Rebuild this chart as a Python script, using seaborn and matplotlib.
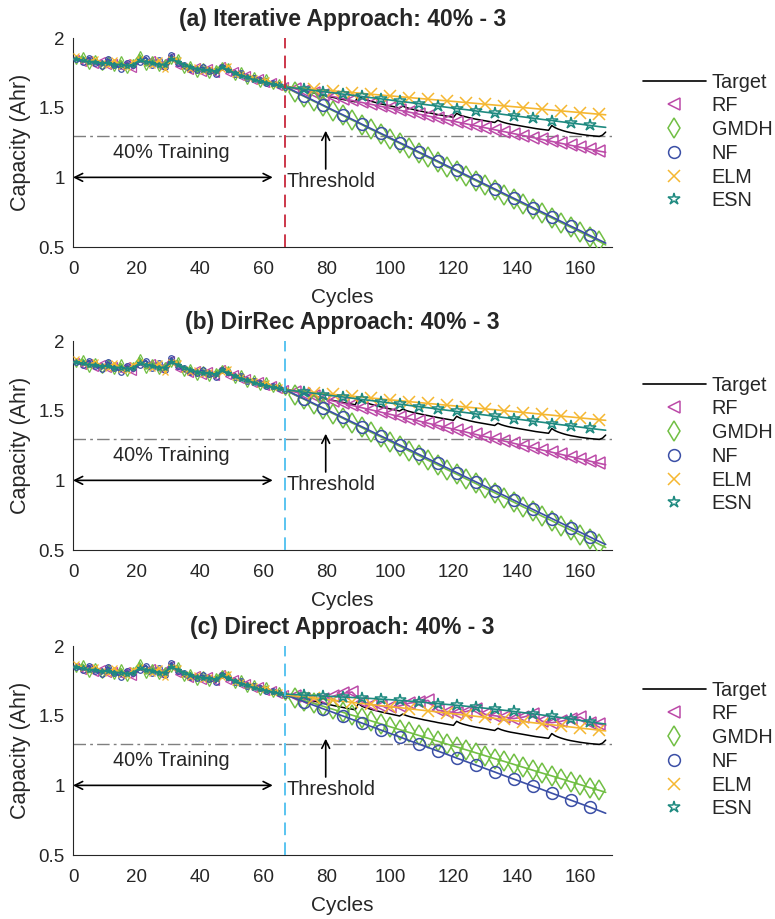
import numpy as np
import matplotlib
matplotlib.use("Agg")
import matplotlib.pyplot as plt
import seaborn as sns
from matplotlib.lines import Line2D

# ---- data -------------------------------------------------------------
cycles = list(range(1, 169))
target = [
    1.856, 1.846, 1.835, 1.835, 1.835, 1.835, 1.835, 1.825, 1.825, 1.824,
    1.825, 1.814, 1.814, 1.826, 1.820, 1.804, 1.804, 1.802, 1.804, 1.805,
    1.855, 1.844, 1.834, 1.834, 1.823, 1.823, 1.818, 1.813, 1.803, 1.803,
    1.855, 1.845, 1.833, 1.823, 1.812, 1.803, 1.792, 1.788, 1.783, 1.778,
    1.773, 1.768, 1.767, 1.763, 1.757, 1.752, 1.793, 1.782, 1.772, 1.762,
    1.752, 1.742, 1.737, 1.727, 1.722, 1.712, 1.707, 1.702, 1.697, 1.691,
    1.686, 1.681, 1.675, 1.670, 1.665, 1.660, 1.655, 1.650, 1.645, 1.640,
    1.634, 1.628, 1.622, 1.617, 1.611, 1.605, 1.600, 1.594, 1.589, 1.584,
    1.579, 1.574, 1.569, 1.564, 1.560, 1.555, 1.551, 1.547, 1.542, 1.588,
    1.570, 1.560, 1.553, 1.546, 1.540, 1.534, 1.528, 1.523, 1.518, 1.513,
    1.508, 1.503, 1.498, 1.512, 1.502, 1.495, 1.489, 1.484, 1.479, 1.474,
    1.469, 1.465, 1.460, 1.456, 1.451, 1.447, 1.443, 1.439, 1.435, 1.431,
    1.460, 1.448, 1.440, 1.434, 1.428, 1.423, 1.418, 1.414, 1.410, 1.406,
    1.402, 1.398, 1.394, 1.410, 1.400, 1.393, 1.387, 1.382, 1.378, 1.374,
    1.370, 1.366, 1.362, 1.358, 1.354, 1.350, 1.347, 1.344, 1.341, 1.338,
    1.372, 1.357, 1.347, 1.339, 1.332, 1.326, 1.321, 1.317, 1.313, 1.309,
    1.306, 1.303, 1.300, 1.298, 1.296, 1.294, 1.303, 1.325]

# training fits (every second cycle, 1..67), same in all three panels
train_cycles = list(range(1, 68, 2))
train_fit = {
    "RF": [1.86, 1.82, 1.85, 1.81, 1.84, 1.80, 1.83, 1.79, 1.83, 1.78,
           1.84, 1.82, 1.85, 1.80, 1.83, 1.87, 1.80, 1.79, 1.76, 1.80,
           1.75, 1.79, 1.74, 1.81, 1.75, 1.77, 1.72, 1.74, 1.69, 1.72,
           1.67, 1.69, 1.65, 1.66],
    "GMDH": [1.84, 1.87, 1.81, 1.85, 1.80, 1.84, 1.79, 1.84, 1.78, 1.82,
             1.88, 1.80, 1.84, 1.79, 1.82, 1.84, 1.86, 1.78, 1.81, 1.75,
             1.79, 1.74, 1.78, 1.80, 1.79, 1.73, 1.76, 1.70, 1.73, 1.68,
             1.71, 1.66, 1.68, 1.64],
    "NF": [1.85, 1.83, 1.86, 1.82, 1.80, 1.85, 1.81, 1.78, 1.82, 1.81,
           1.83, 1.86, 1.81, 1.84, 1.79, 1.88, 1.82, 1.81, 1.78, 1.77,
           1.79, 1.76, 1.74, 1.79, 1.78, 1.74, 1.75, 1.71, 1.71, 1.70,
           1.68, 1.68, 1.66, 1.65],
    "ELM": [1.87, 1.84, 1.83, 1.85, 1.82, 1.81, 1.84, 1.80, 1.79, 1.83,
            1.85, 1.83, 1.81, 1.84, 1.78, 1.85, 1.84, 1.80, 1.78, 1.79,
            1.76, 1.78, 1.76, 1.78, 1.80, 1.74, 1.74, 1.72, 1.71, 1.69,
            1.70, 1.67, 1.67, 1.65],
    "ESN": [1.85, 1.84, 1.83, 1.83, 1.82, 1.82, 1.81, 1.81, 1.80, 1.81,
            1.84, 1.83, 1.82, 1.81, 1.81, 1.85, 1.83, 1.81, 1.79, 1.78,
            1.77, 1.77, 1.76, 1.79, 1.77, 1.75, 1.73, 1.72, 1.70, 1.69,
            1.68, 1.67, 1.66, 1.65],
}

# predictions from cycle 67 on
pred_cycles = list(range(67, 167, 3)) + [168]

pred_a = {
    "RF": [1.650, 1.636, 1.622, 1.608, 1.594, 1.580, 1.566, 1.552, 1.538, 1.524,
           1.510, 1.496, 1.482, 1.468, 1.454, 1.440, 1.426, 1.412, 1.398, 1.384,
           1.370, 1.356, 1.342, 1.328, 1.314, 1.300, 1.286, 1.272, 1.258, 1.244,
           1.230, 1.216, 1.202, 1.188, 1.180],
    "GMDH": [1.650, 1.612, 1.580, 1.545, 1.513, 1.478, 1.446, 1.411, 1.379, 1.344,
             1.312, 1.277, 1.245, 1.210, 1.178, 1.143, 1.111, 1.076, 1.044, 1.009,
             0.977, 0.942, 0.910, 0.875, 0.843, 0.808, 0.776, 0.741, 0.709, 0.674,
             0.642, 0.607, 0.575, 0.540, 0.515],
    "NF": [1.650, 1.617, 1.583, 1.550, 1.517, 1.483, 1.450, 1.417, 1.383, 1.350,
           1.317, 1.283, 1.250, 1.217, 1.183, 1.150, 1.117, 1.083, 1.050, 1.017,
           0.983, 0.950, 0.917, 0.883, 0.850, 0.817, 0.783, 0.750, 0.717, 0.683,
           0.650, 0.617, 0.583, 0.550, 0.528],
    "ELM": [1.650, 1.644, 1.638, 1.632, 1.627, 1.621, 1.615, 1.609, 1.603, 1.597,
            1.591, 1.585, 1.579, 1.573, 1.567, 1.561, 1.555, 1.549, 1.543, 1.537,
            1.531, 1.525, 1.519, 1.513, 1.507, 1.501, 1.495, 1.489, 1.483, 1.477,
            1.471, 1.465, 1.459, 1.453, 1.449],
    "ESN": [1.650, 1.641, 1.633, 1.624, 1.615, 1.607, 1.598, 1.590, 1.581, 1.572,
            1.564, 1.555, 1.546, 1.538, 1.529, 1.520, 1.512, 1.503, 1.494, 1.486,
            1.477, 1.468, 1.460, 1.451, 1.442, 1.434, 1.425, 1.416, 1.408, 1.399,
            1.390, 1.382, 1.373, 1.364, 1.359],
}
pred_b = {
    "RF": [1.650, 1.634, 1.618, 1.602, 1.586, 1.570, 1.554, 1.538, 1.522, 1.506,
           1.490, 1.474, 1.458, 1.442, 1.426, 1.410, 1.394, 1.378, 1.362, 1.346,
           1.330, 1.314, 1.298, 1.282, 1.266, 1.250, 1.234, 1.218, 1.202, 1.186,
           1.170, 1.154, 1.138, 1.122, 1.112],
    "GMDH": [1.650, 1.613, 1.581, 1.546, 1.514, 1.479, 1.447, 1.412, 1.380, 1.345,
             1.313, 1.278, 1.246, 1.211, 1.179, 1.144, 1.112, 1.077, 1.045, 1.010,
             0.978, 0.943, 0.911, 0.876, 0.844, 0.809, 0.777, 0.742, 0.710, 0.675,
             0.643, 0.608, 0.576, 0.541, 0.518],
    "NF": [1.650, 1.617, 1.584, 1.551, 1.518, 1.485, 1.452, 1.419, 1.386, 1.353,
           1.320, 1.287, 1.254, 1.221, 1.188, 1.155, 1.122, 1.089, 1.056, 1.023,
           0.990, 0.957, 0.924, 0.891, 0.858, 0.825, 0.792, 0.759, 0.726, 0.693,
           0.660, 0.627, 0.594, 0.561, 0.540],
    "ELM": [1.650, 1.643, 1.637, 1.630, 1.624, 1.617, 1.611, 1.604, 1.598, 1.591,
            1.585, 1.578, 1.572, 1.565, 1.559, 1.552, 1.546, 1.539, 1.533, 1.526,
            1.520, 1.513, 1.507, 1.500, 1.494, 1.487, 1.481, 1.474, 1.468, 1.461,
            1.455, 1.448, 1.442, 1.435, 1.431],
    "ESN": [1.650, 1.642, 1.633, 1.625, 1.616, 1.607, 1.599, 1.590, 1.581, 1.573,
            1.564, 1.555, 1.547, 1.538, 1.529, 1.521, 1.512, 1.503, 1.495, 1.486,
            1.477, 1.469, 1.460, 1.451, 1.443, 1.434, 1.425, 1.417, 1.408, 1.399,
            1.391, 1.382, 1.373, 1.365, 1.360],
}
pred_c = {
    "RF": [1.65, 1.64, 1.62, 1.61, 1.62, 1.64, 1.66, 1.67, 1.60, 1.58,
           1.57, 1.56, 1.57, 1.59, 1.60, 1.61, 1.54, 1.53, 1.52, 1.53,
           1.55, 1.51, 1.50, 1.49, 1.48, 1.49, 1.51, 1.46, 1.45, 1.46,
           1.48, 1.49, 1.45, 1.44, 1.43],
    "GMDH": [1.650, 1.629, 1.608, 1.588, 1.567, 1.546, 1.525, 1.504, 1.484, 1.463,
             1.442, 1.421, 1.400, 1.380, 1.359, 1.338, 1.317, 1.296, 1.276, 1.255,
             1.234, 1.213, 1.192, 1.172, 1.151, 1.130, 1.109, 1.088, 1.068, 1.047,
             1.026, 1.005, 0.984, 0.964, 0.950],
    "NF": [1.650, 1.625, 1.600, 1.574, 1.549, 1.524, 1.499, 1.474, 1.448, 1.423,
           1.398, 1.373, 1.348, 1.322, 1.297, 1.272, 1.247, 1.222, 1.196, 1.171,
           1.146, 1.121, 1.096, 1.070, 1.045, 1.020, 0.995, 0.970, 0.944, 0.919,
           0.894, 0.869, 0.844, 0.818, 0.800],
    "ELM": [1.650, 1.642, 1.635, 1.627, 1.619, 1.612, 1.604, 1.596, 1.588, 1.581,
            1.573, 1.565, 1.558, 1.550, 1.542, 1.535, 1.527, 1.519, 1.511, 1.504,
            1.496, 1.488, 1.481, 1.473, 1.465, 1.458, 1.450, 1.442, 1.435, 1.427,
            1.419, 1.411, 1.404, 1.396, 1.391],
    "ESN": [1.655, 1.652, 1.648, 1.645, 1.641, 1.638, 1.634, 1.631, 1.627, 1.624,
            1.619, 1.615, 1.610, 1.605, 1.599, 1.593, 1.587, 1.581, 1.575, 1.568,
            1.561, 1.554, 1.547, 1.539, 1.531, 1.522, 1.514, 1.505, 1.496, 1.486,
            1.476, 1.466, 1.456, 1.446, 1.440],
}

titles = ["(a) Iterative Approach: 40% - 3",
          "(b) DirRec Approach: 40% - 3",
          "(c) Direct Approach: 40% - 3"]
panels = [pred_a, pred_b, pred_c]
split_colors = ["#C8283C", "#4DBFEF", "#4DBFEF"]
models = ["RF", "GMDH", "NF", "ELM", "ESN"]
threshold = 1.3
train_end = 67

# ---- style ------------------------------------------------------------
sns.set_style("white")
plt.rcParams["font.family"] = ["Liberation Sans", "DejaVu Sans"]

colors = {"RF": "#BC4AA8", "GMDH": "#71BF44", "NF": "#3B4FA6",
          "ELM": "#F5B731", "ESN": "#1E8A80"}
markers = {"RF": "<", "GMDH": "d", "NF": "o", "ELM": "x", "ESN": "*"}
msize = {"RF": 9, "GMDH": 10, "NF": 8.5, "ELM": 9, "ESN": 9}
mevery = {"RF": list(range(1, 34)), "GMDH": list(range(1, 34)),
          "NF": list(range(2, 34, 2)), "ELM": list(range(3, 34, 2)),
          "ESN": list(range(2, 34, 2))}

fig = plt.figure(figsize=(7.75, 9.19), dpi=100)
bottoms = [0.7312, 0.4015, 0.0696]

for k in range(3):
    ax = fig.add_axes([0.0942, bottoms[k], 0.6955, 0.2274])
    preds = panels[k]

    sns.lineplot(x=cycles, y=target, color="black", lw=1.1, ax=ax,
                 legend=False, zorder=2)
    for m in models:
        sns.lineplot(x=train_cycles, y=train_fit[m], color=colors[m], lw=1.4,
                     marker=markers[m], markersize=4, fillstyle="none",
                     markeredgewidth=0.9, markeredgecolor=colors[m],
                     ax=ax, legend=False, zorder=3)
    for m in models:
        sns.lineplot(x=pred_cycles, y=preds[m], color=colors[m], lw=1.2,
                     marker=markers[m], markersize=msize[m], fillstyle="none",
                     markeredgewidth=1.1, markeredgecolor=colors[m],
                     markevery=mevery[m], ax=ax, legend=False, zorder=3)

    ax.axhline(threshold, color="#7f7f7f", lw=1.0,
               linestyle=(0, (9, 3, 2, 3)), zorder=1)
    ax.axvline(train_end, color=split_colors[k], lw=1.3,
               linestyle=(0, (7, 4)), zorder=4)

    ax.annotate("", xy=(0, 1.0), xytext=(63, 1.0),
                arrowprops=dict(arrowstyle="<->", color="black", lw=1.2,
                                mutation_scale=14, shrinkA=0, shrinkB=0))
    ax.text(31, 1.175, "40% Training", fontsize=14.3, ha="center", va="center")
    ax.annotate("", xy=(79.7, 1.335), xytext=(79.7, 1.06),
                arrowprops=dict(arrowstyle="->", color="black", lw=1.2,
                                mutation_scale=14, shrinkA=0, shrinkB=0))
    ax.text(67.4, 0.97, "Threshold", fontsize=14.3, ha="left", va="center")

    ax.set_xlim(0, 170)
    ax.set_ylim(0.5, 2)
    ax.set_xticks(range(0, 161, 20))
    ax.set_yticks([0.5, 1, 1.5, 2])
    ax.set_yticklabels(["0.5", "1", "1.5", "2"])
    ax.tick_params(direction="in", length=5, width=0.8, colors="#262626",
                   labelsize=13.5)
    ax.tick_params(axis="x", pad=10)
    ax.tick_params(axis="y", pad=6)
    for s in ["top", "right"]:
        ax.spines[s].set_visible(False)
    for s in ["left", "bottom"]:
        ax.spines[s].set_color("#262626")
        ax.spines[s].set_linewidth(0.8)

    ax.set_xlabel("Cycles", fontsize=15, labelpad=7)
    ax.set_ylabel("Capacity (Ahr)", fontsize=15.5, labelpad=5)
    ax.set_title(titles[k], fontsize=16.5, fontweight="bold", pad=9,
                 family=["Liberation Sans Narrow", "Liberation Sans"])

    handles = [Line2D([], [], color="black", lw=1.2)]
    for m in models:
        handles.append(Line2D([], [], ls="none", marker=markers[m],
                              color=colors[m], mfc="none", ms=msize[m],
                              mew=1.1))
    ax.legend(handles, ["Target"] + models, loc="upper left",
              bbox_to_anchor=(1.0575, 0.835), frameon=False, fontsize=14.3,
              handlelength=3.15, handletextpad=0.3, labelspacing=0.24,
              borderpad=0, borderaxespad=0)

fig.savefig("out.png", dpi=100)
